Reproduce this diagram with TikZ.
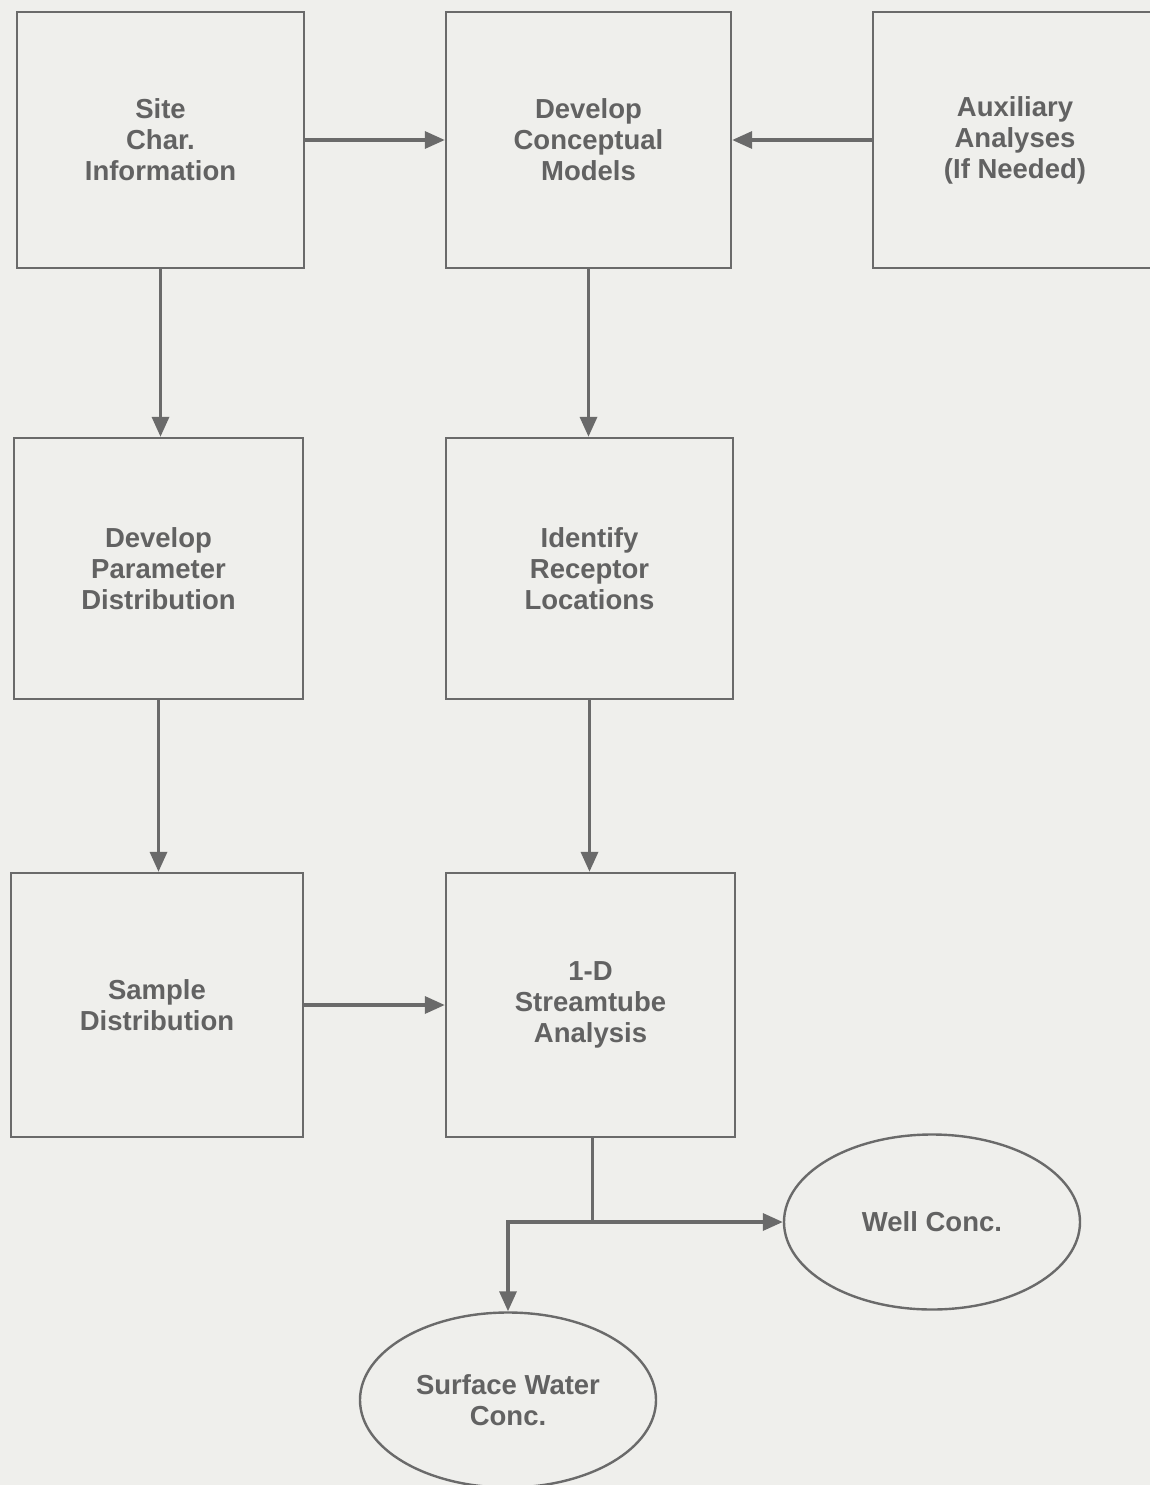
\documentclass[tikz,border=0pt]{standalone}
\usepackage{fontspec}
\setmainfont{Liberation Sans}
\usetikzlibrary{arrows.meta,shapes.geometric}
\definecolor{paper}{HTML}{EFEFEC}
\definecolor{ink}{HTML}{6A6A6A}
\definecolor{txt}{HTML}{626262}
\tikzset{
  stepbox/.style={draw=ink, line width=2.4pt, rectangle, minimum height=256pt,
    align=center, text=txt, font=\bfseries\fontsize{27.5}{31}\selectfont, inner sep=0pt},
  endoval/.style={draw=ink, line width=2.4pt, ellipse, minimum width=296pt,
    minimum height=175pt, align=center, text=txt,
    font=\bfseries\fontsize{27.5}{31}\selectfont, inner sep=0pt},
  flow/.style={draw=ink, line width=3.4pt,
    -{Triangle[length=20pt,width=17pt]}},
  flowline/.style={draw=ink, line width=3.4pt}
}
\begin{document}
\begin{tikzpicture}[x=1pt,y=-1pt]
  \useasboundingbox[fill=paper] (0,0) rectangle (1150,1485);

  % top row
  \node[stepbox, minimum width=287pt] (site) at (160.5,140) {Site\\Char.\\Information};
  \node[stepbox, minimum width=285pt] (concept) at (588.5,140) {Develop\\Conceptual\\Models};
  \node[stepbox, minimum width=284pt] (aux) at (1015,140) {Auxiliary\\Analyses\\(If Needed)};

  % middle row
  \node[stepbox, minimum width=289pt, minimum height=261pt] (param) at (158.5,568.5) {Develop\\Parameter\\Distribution};
  \node[stepbox, minimum width=287pt, minimum height=261pt] (recept) at (589.5,568.5) {Identify\\Receptor\\Locations};

  % bottom row
  \node[stepbox, minimum width=292pt, minimum height=264pt] (sample) at (157,1005) {Sample\\Distribution};
  \node[stepbox, minimum width=289pt, minimum height=264pt] (stream) at (590.5,1005) {1-D\\Streamtube\\Analysis};

  % results
  \node[endoval] (well) at (932,1222) {Well Conc.};
  \node[endoval] (surf) at (508,1400) {Surface Water\\Conc.};

  % connectors
  \draw[flow] (site.east) -- (concept.west);
  \draw[flow] (aux.west) -- (concept.east);
  \draw[flow] (site.south) -- (site.south |- param.north);
  \draw[flow] (concept.south) -- (concept.south |- recept.north);
  \draw[flow] (param.south) -- (param.south |- sample.north);
  \draw[flow] (recept.south) -- (recept.south |- stream.north);
  \draw[flow] (sample.east) -- (sample.east -| stream.west);

  % output branches
  \coordinate (split) at ([xshift=2pt]stream.south |- well.west);
  \draw[flowline] ([xshift=2pt]stream.south) -- (split);
  \draw[flow] (split) -- (well.west);
  \draw[flow] (split) -| (surf.north);
\end{tikzpicture}
\end{document}
